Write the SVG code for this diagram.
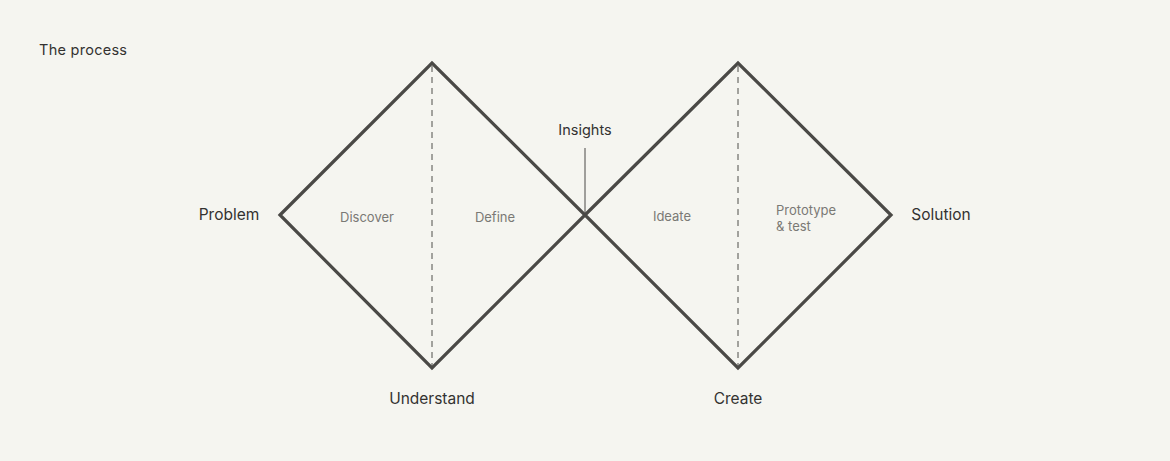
<svg xmlns="http://www.w3.org/2000/svg" width="1170" height="461" viewBox="0 0 1170 461">
<style>
.bg{fill:#f5f5f0}
.dia{fill:none;stroke:#4a4946;stroke-width:3.2;stroke-linejoin:miter}
.dash{stroke:#4f4e4b;stroke-width:1;stroke-dasharray:6 5}
.thin{stroke:#4a4946;stroke-width:1}
.lab{font-family:Inter,"Liberation Sans",sans-serif;font-size:15.5px;fill:#333230}
.sub{font-family:Inter,"Liberation Sans",sans-serif;font-size:13px;fill:#7a7975}
.sm{font-family:Inter,"Liberation Sans",sans-serif;font-size:14.5px;fill:#333230}
</style>
<rect class="bg" width="1170" height="461"/>
<text class="sm" x="39" y="55" textLength="88">The process</text>
<g id="diamond-understand">
<polygon class="dia" points="280,215 432,63 585,215 432,368"/>
<line class="dash" x1="432" y1="66" x2="432" y2="366"/>
<text class="sub" x="367" y="222" text-anchor="middle">Discover</text>
<text class="sub" x="495" y="222" text-anchor="middle">Define</text>
</g>
<g id="diamond-create">
<polygon class="dia" points="585,215 738,63 891,215 738,368"/>
<line class="dash" x1="738" y1="66" x2="738" y2="366"/>
<text class="sub" x="672" y="221" text-anchor="middle">Ideate</text>
<text class="sub" x="776" y="215">Prototype</text>
<text class="sub" x="776" y="231">&amp; test</text>
</g>
<g id="connectors">
<line class="thin" x1="585" y1="148" x2="585" y2="215"/>
</g>
<g id="labels">
<text class="sm" x="585" y="135" text-anchor="middle">Insights</text>
<text class="lab" x="229" y="220" text-anchor="middle">Problem</text>
<text class="lab" x="941" y="220" text-anchor="middle">Solution</text>
<text class="lab" x="432" y="404" text-anchor="middle">Understand</text>
<text class="lab" x="738" y="404" text-anchor="middle">Create</text>
</g>
</svg>
